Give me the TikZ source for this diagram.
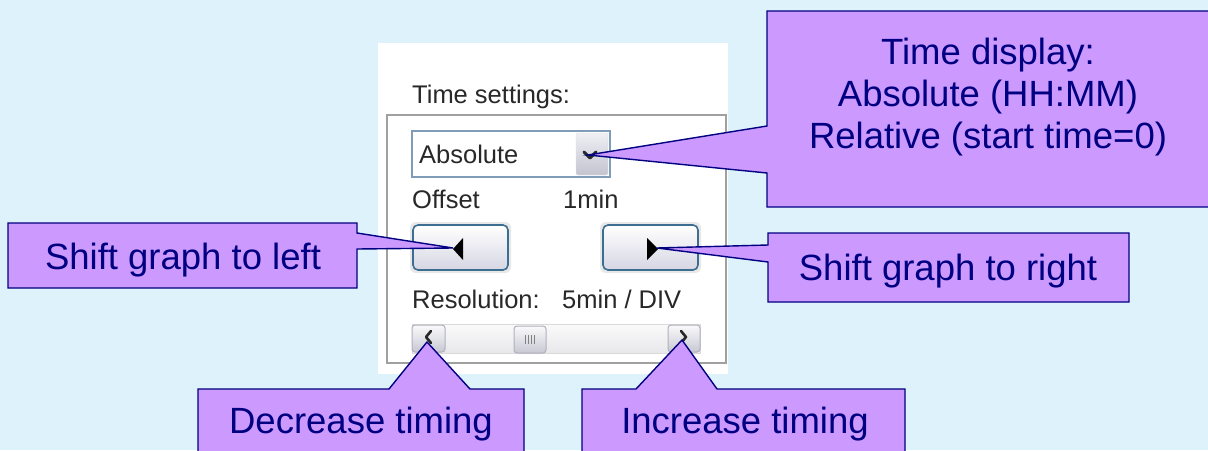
\documentclass[tikz,border=0pt]{standalone}
\usepackage{fontspec}
\setmainfont{Liberation Sans}
\definecolor{bgblue}{RGB}{222,242,251}
\definecolor{callfill}{RGB}{204,153,255}
\definecolor{navy}{RGB}{0,0,128}
\definecolor{uigray}{RGB}{40,40,40}
\definecolor{framegray}{RGB}{160,160,160}
\definecolor{ddborder}{RGB}{127,157,185}
\definecolor{btnborder}{RGB}{60,110,145}
\definecolor{btnbottom}{RGB}{214,214,228}
\definecolor{halogray}{RGB}{232,232,232}
\definecolor{sbborder}{RGB}{176,176,188}
\definecolor{sbbottom}{RGB}{200,200,212}
\definecolor{tracktop}{RGB}{250,250,250}
\definecolor{trackbottom}{RGB}{232,232,236}
\begin{document}
\begin{tikzpicture}[x=1pt,y=-1pt,
  calloutshape/.style={fill=callfill, draw=navy, line width=1.4pt, line join=miter},
  calltext/.style={text=navy, font=\fontsize{36.5}{42}\selectfont, inner sep=0pt},
  uitext/.style={text=uigray, font=\fontsize{25.5}{30}\selectfont, inner sep=0pt, anchor=base west},
  winbtn/.style={rounded corners=5pt, draw=btnborder, line width=1.6pt, top color=white, bottom color=btnbottom},
  sbbtn/.style={rounded corners=3pt, draw=sbborder, line width=1pt, top color=white!90!sbbottom, bottom color=sbbottom},
  chev/.style={draw=uigray, line width=2.6pt, line cap=round, line join=round}
]
\useasboundingbox (0,0) rectangle (1208,450);
\clip (0,0) rectangle (1208,450);
\fill[bgblue] (0,0) rectangle (1208,450);

% ---------- panel ----------
\fill[white] (378,43) rectangle (728,374);
\node[uitext] (ts) at (412,103) {Time settings:};
\draw[framegray, line width=1.5pt] (387,115) rectangle (726,363);

% dropdown
\draw[fill=white, draw=ddborder, line width=1.5pt] (412,131) rectangle (610,177);
\node[uitext] (abs) at (419,163) {Absolute};
\draw[rounded corners=2pt, draw=white!70!ddborder, top color=white!60!btnbottom, bottom color=btnbottom!90!black!95] (576,133) rectangle (608,175);
\draw[chev, line width=3pt] (584,152) -- (590,158) -- (596,152);

% offset row
\node[uitext] (off) at (412,208) {Offset};
\node[uitext] (onemin) at (563,208) {1min};

% buttons
\fill[halogray, rounded corners=6pt] (410,222) rectangle (511,273);
\draw[winbtn] (413,225) rectangle (508,270);
\fill[halogray, rounded corners=6pt] (600,222) rectangle (701,273);
\draw[winbtn] (603,225) rectangle (698,270);
\fill[black] (453,249) -- (463,238) -- (463,260) -- cycle;
\fill[black] (658,249) -- (647,238) -- (647,260) -- cycle;

% resolution row
\node[uitext] (res) at (412,308) {Resolution:};
\node[uitext] (div) at (562,308) {5min / DIV};

% scrollbar
\draw[draw=white!85!black, top color=tracktop, bottom color=trackbottom] (412,324) rectangle (700,353);
\draw[sbbtn] (412,325) rectangle (445,352);
\draw[sbbtn] (668,325) rectangle (700,352);
\draw[sbbtn] (514,326) rectangle (546,353);
\foreach \gx in {525,528,531,534} \draw[gray, line width=0.8pt] (\gx,335) -- (\gx,344);
\draw[chev] (431,331) -- (426,337) -- (431,343);
\draw[chev] (681,331) -- (686,337) -- (681,343);

% ---------- callouts ----------
\coordinate (tA) at (588,155);
\coordinate (tL) at (453,248);
\coordinate (tR) at (657,248);
\coordinate (tD) at (427,342);
\coordinate (tI) at (682,340);

\path[calloutshape] (767,11) -- (1230,11) -- (1230,207) -- (767,207) -- (767,173) -- (tA) -- (767,126) -- cycle;
\node[calltext, align=center] (tdisp) at (988,97) {Time display:\\Absolute (HH:MM)\\Relative (start time=0)};

\path[calloutshape] (8,223) -- (357,223) -- (357,233) -- (tL) -- (357,249) -- (357,288) -- (8,288) -- cycle;
\node[calltext, anchor=base] (sleft) at (183,269) {Shift graph to left};

\path[calloutshape] (768,233) -- (1129,233) -- (1129,302) -- (768,302) -- (768,262) -- (tR) -- (768,245) -- cycle;
\node[calltext, anchor=base] (sright) at (948,280) {Shift graph to right};

\path[calloutshape] (198,389) -- (389,389) -- (tD) -- (470,389) -- (524,389) -- (524,460) -- (198,460) -- cycle;
\node[calltext, anchor=base] (dec) at (361,433) {Decrease timing};

\path[calloutshape] (582,389) -- (636,389) -- (tI) -- (717,389) -- (905,389) -- (905,460) -- (582,460) -- cycle;
\node[calltext, anchor=base] (inc) at (745,433) {Increase timing};
\end{tikzpicture}
\end{document}
